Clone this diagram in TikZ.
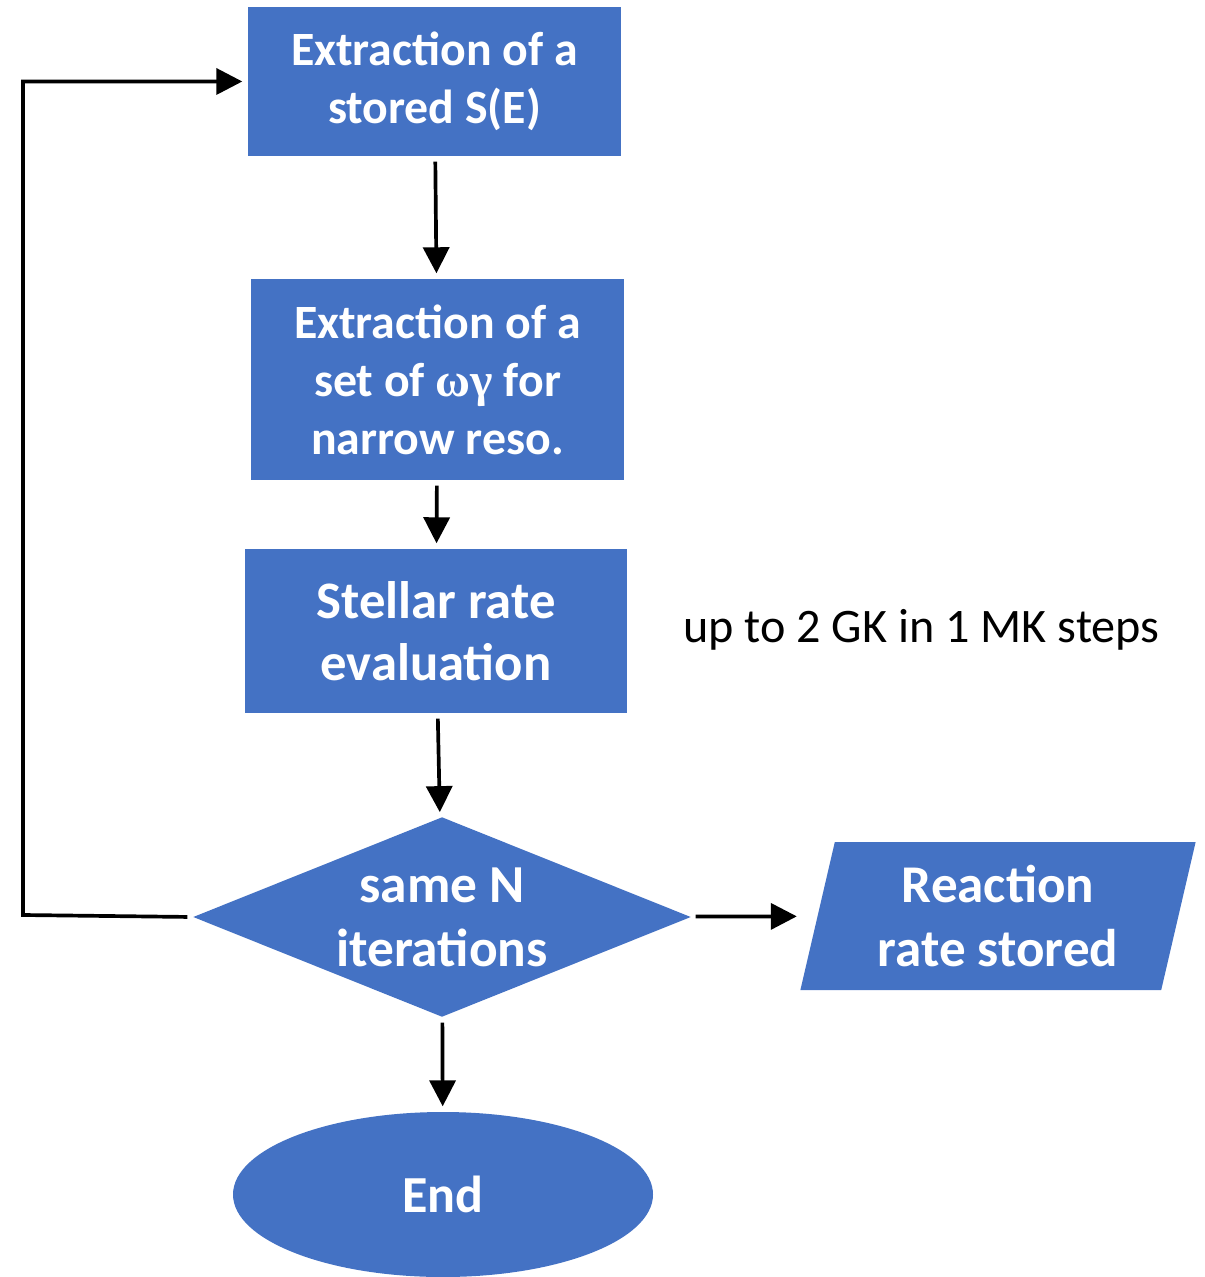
\documentclass[tikz,border=0pt]{standalone}
\usepackage{fontspec}
\setmainfont{Carlito}
\newfontfamily\greekfont{Liberation Serif}
\usetikzlibrary{shapes.geometric,arrows.meta}
\definecolor{flowblue}{HTML}{4472C4}
\begin{document}
\begin{tikzpicture}[
        box/.style={rectangle, fill=flowblue, text=white, font=\bfseries\fontsize{13.6}{16.5}\selectfont, align=center, inner sep=0pt},
        decision/.style={diamond, fill=flowblue, inner sep=0pt, minimum width=4.98cm, minimum height=2cm},
        output/.style={trapezium, trapezium left angle=76, trapezium right angle=104, trapezium stretches=true, fill=flowblue, text=white, font=\bfseries\fontsize{15.1}{18.2}\selectfont, align=center, inner sep=0pt, minimum width=3.98cm, minimum height=1.48cm},
        terminal/.style={ellipse, fill=flowblue, text=white, font=\bfseries\fontsize{14.8}{18}\selectfont, inner sep=0pt, minimum width=4.2cm, minimum height=1.65cm},
        arrow/.style={-{Triangle[length=0.26cm,width=0.26cm]}, line width=1.05pt, shorten <=0.05cm, shorten >=0.05cm}
    ]
        \useasboundingbox (0,0) rectangle (12.05,-12.77);

        \node[box, minimum width=3.73cm, minimum height=1.49cm] (stored) at (4.345,-0.815) {Extraction of a\\stored S(E)};
        \node[box, minimum width=3.73cm, minimum height=2.01cm] (narrow) at (4.375,-3.795) {Extraction of a\\set of {\greekfont\bfseries ωγ} for\\narrow reso.};
        \node[box, minimum width=3.82cm, minimum height=1.64cm, font=\bfseries\fontsize{15}{17.5}\selectfont] (stellar) at (4.36,-6.31) {Stellar rate\\evaluation};
        \node[decision, label={[text=white, font=\bfseries\fontsize{15.2}{18.2}\selectfont, align=center]center:same N\\iterations}] (same) at (4.42,-9.17) {};
        \node[output] (rate) at (9.98,-9.16) {Reaction\\rate stored};
        \node[terminal] (end) at (4.43,-11.945) {End};
        \node[font=\fontsize{13.7}{16}\selectfont] (steps) at (9.215,-6.3) {up to 2 GK in 1 MK steps};
        \coordinate (back) at (0.23,-9.15);

        \draw[arrow] (stored) -- (narrow);
        \draw[arrow] (narrow) -- (stellar);
        \draw[arrow] (stellar) -- (same);
        \draw[arrow] (same) -- (end);
        \draw[arrow, shorten >=0.2cm] (same) -- (rate);
        \draw[arrow] (same.west) -- (back) |- (stored.west);
    \end{tikzpicture}
\end{document}
